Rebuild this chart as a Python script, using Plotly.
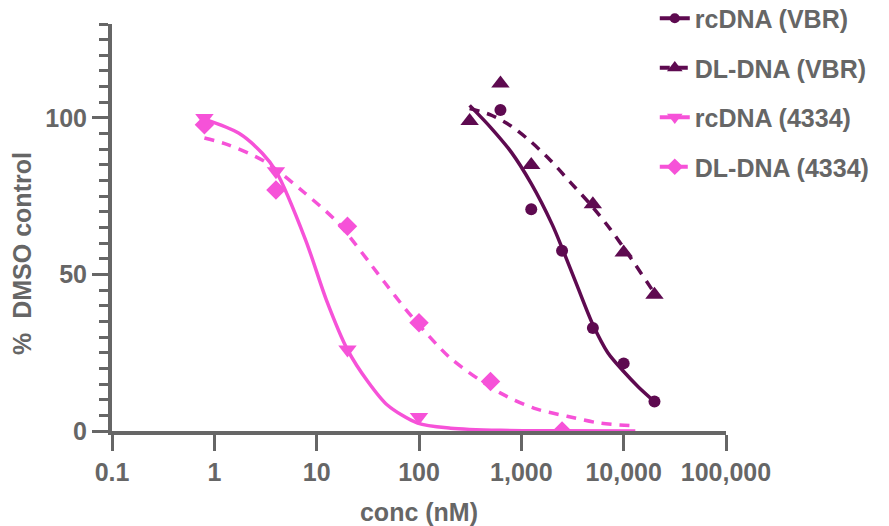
import plotly.graph_objects as go

# ---------------- data ----------------
# measured points
vbr_rc_x = [625, 1250, 2500, 5000, 10000, 20000]
vbr_rc_y = [102.5, 70.8, 57.6, 32.9, 21.6, 9.4]

vbr_dl_x = [312.5, 625, 1250, 5000, 10000, 20000]
vbr_dl_y = [99, 111, 85, 72.4, 57, 43.5]

c4334_rc_x = [0.8, 4, 20, 100]
c4334_rc_y = [100, 83, 26, 4.5]

c4334_dl_x = [0.8, 4, 20, 100, 500, 2500]
c4334_dl_y = [97.8, 77, 65.4, 34.6, 15.8, 0]

# fitted curves
fit_vbr_rc_x = [312.5, 500, 800, 1250, 2000, 2500, 3500, 5000, 7000, 10000, 14000, 20000]
fit_vbr_rc_y = [104, 97, 89, 79, 66, 58.5, 46.5, 34, 25, 19, 14, 9.4]

fit_vbr_dl_x = [312.5, 500, 785, 1230, 1920, 3000, 4700, 7400, 11600, 20000]
fit_vbr_dl_y = [103, 101, 97.5, 92.5, 86.5, 79.5, 72.5, 64.5, 55.5, 44]

fit_4334_rc_x = [0.8, 1.74, 2.94, 4.0, 7.8, 12.4, 20, 31.6, 49, 97, 204, 630, 2000, 13000]
fit_4334_rc_y = [99.6, 95.1, 88.7, 83, 61, 42, 26, 15.8, 8.3, 2.5, 0.9, 0.2, 0.05, 0]

fit_4334_dl_x = [0.8, 1.37, 3.1, 7.6, 16, 46, 78, 204, 627, 1320, 2800, 5900, 12000]
fit_4334_dl_y = [93.6, 91.4, 86.1, 76.1, 66.6, 47.5, 38, 23.2, 12.1, 7.3, 4.7, 2.5, 1.7]

series_names = ["rcDNA (VBR)", "DL-DNA (VBR)", "rcDNA (4334)", "DL-DNA (4334)"]

x_tickvals = [0.1, 1, 10, 100, 1000, 10000, 100000]
x_ticktext = ["0.1", "1", "10", "100", "1,000", "10,000", "100,000"]
y_tickvals = [0, 50, 100]
y_ticktext = ["0", "50", "100"]

# ---------------- styles ----------------
PURPLE = "#5E0A50"
PINK = "#F652D8"
GRAY = "#666666"
FONT = "Liberation Sans, Arial, sans-serif"
DASH = "10px,8px"

specs = [
    # name, color, dash, symbol, size, pts x, pts y, fit x, fit y
    (series_names[0], PURPLE, "solid", "circle", 12, vbr_rc_x, vbr_rc_y, fit_vbr_rc_x, fit_vbr_rc_y),
    (series_names[1], PURPLE, DASH, "triangle-up", 16, vbr_dl_x, vbr_dl_y, fit_vbr_dl_x, fit_vbr_dl_y),
    (series_names[2], PINK, "solid", "triangle-down", 16, c4334_rc_x, c4334_rc_y, fit_4334_rc_x, fit_4334_rc_y),
    (series_names[3], PINK, DASH, "diamond", 15, c4334_dl_x, c4334_dl_y, fit_4334_dl_x, fit_4334_dl_y),
]

fig = go.Figure()

for i, (name, col, dash, sym, size, px, py, fx, fy) in enumerate(specs):
    # fitted curve
    fig.add_trace(go.Scatter(
        x=fx, y=fy, mode="lines",
        line=dict(color=col, width=3.5, dash=dash, shape="spline", smoothing=0.8),
        showlegend=False, cliponaxis=False, hoverinfo="skip"))
    # points
    fig.add_trace(go.Scatter(
        x=px, y=py, mode="markers",
        marker=dict(color=col, symbol=sym, size=size, line=dict(width=0)),
        showlegend=False, cliponaxis=True, name=name))
    # legend entry
    fig.add_trace(go.Scatter(
        x=[None], y=[None], mode="lines+markers", name=name, legendgroup=name,
        line=dict(color=col, width=4, dash=dash),
        marker=dict(color=col, symbol=sym, size=size * 0.85, line=dict(width=0))))

axis_common = dict(
    showline=True, linecolor=GRAY, linewidth=4, showgrid=False, zeroline=False,
    ticks="outside", tickcolor=GRAY, tickwidth=3, ticklen=16,
    tickfont=dict(family=FONT, size=25, color=GRAY, weight="bold"),
    layer="below traces",
)

fig.update_layout(
    width=889, height=526,
    margin=dict(l=112, r=163, t=24, b=95, autoexpand=False),
    paper_bgcolor="white", plot_bgcolor="white",
    font=dict(family=FONT, color=GRAY),
    xaxis=dict(
        type="log", range=[-1, 5], tickvals=x_tickvals, ticktext=x_ticktext,
        title=dict(text="conc (nM)", font=dict(family=FONT, size=25, color=GRAY, weight="bold"), standoff=20),
        **axis_common),
    yaxis=dict(
        range=[0, 130], tickvals=y_tickvals, ticktext=y_ticktext,
        minor=dict(dtick=5, tick0=0, ticks="outside", ticklen=9, tickwidth=3, tickcolor=GRAY),
        **axis_common),
    legend=dict(
        x=0.884, xanchor="left", y=1.07, yanchor="top", xref="paper", yref="paper",
        traceorder="grouped", tracegroupgap=14, itemwidth=30,
        font=dict(family=FONT, size=25, color=GRAY, weight="bold"),
        bgcolor="rgba(0,0,0,0)"),
    annotations=[dict(
        text="%\u00a0\u00a0DMSO control", textangle=-90, xref="paper", yref="paper",
        x=-0.147, y=0.437, xanchor="center", yanchor="middle", showarrow=False,
        font=dict(family=FONT, size=25, color=GRAY, weight="bold"))],
)

fig.write_html(
    "out.html",
    config={"displayModeBar": False},
    post_script="document.body.style.margin='0';document.body.style.padding='0';",
)
